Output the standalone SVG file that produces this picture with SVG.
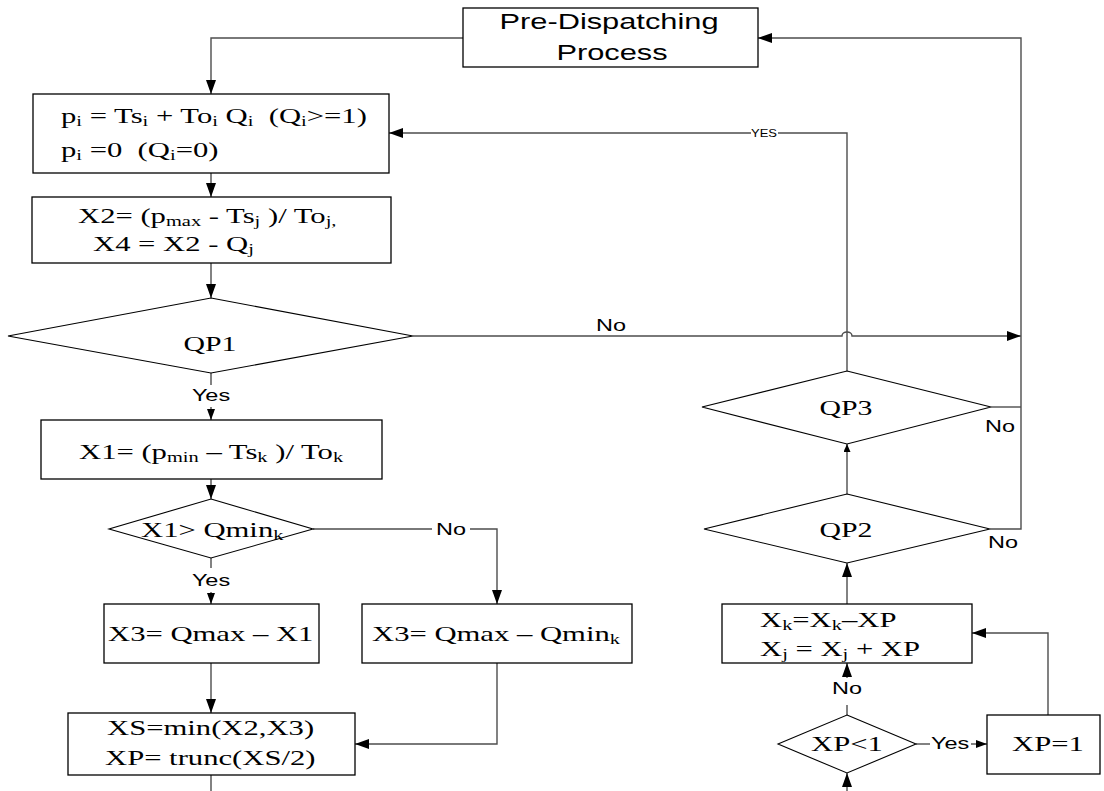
<svg xmlns="http://www.w3.org/2000/svg" width="1104" height="791" viewBox="0 0 1104 791">
  <style>
    .box { fill: #fff; stroke: #000; stroke-width: 1.3; }
    .dia { fill: #fff; stroke: #000; stroke-width: 1.1; }
    .ln { fill: none; stroke: #4d4d4d; stroke-width: 1.4; }
    .tm { font-family: "Liberation Serif", "Times New Roman", serif; font-size: 21px; fill: #000; white-space: pre; }
    .ts { font-family: "Liberation Sans", Arial, sans-serif; font-size: 22px; fill: #000; white-space: pre; }
    .lb { font-family: "Liberation Sans", Arial, sans-serif; font-size: 17px; fill: #000; white-space: pre; }
    .lbs { font-family: "Liberation Sans", Arial, sans-serif; font-size: 10px; fill: #000; }
    .sb { font-size: 14px; }
  </style>
  <defs>
    <marker id="ah" viewBox="0 0 14 10" refX="14" refY="5" markerWidth="14" markerHeight="10" markerUnits="userSpaceOnUse" orient="auto">
      <path d="M0,0 L14,5 L0,10 Z" fill="#000"/>
    </marker>
    <marker id="ahm" viewBox="0 0 11 8" refX="11" refY="4" markerWidth="11" markerHeight="8" markerUnits="userSpaceOnUse" orient="auto">
      <path d="M0,0 L11,4 L0,8 Z" fill="#000"/>
    </marker>
    <marker id="ahs" viewBox="0 0 8 7" refX="8" refY="3.5" markerWidth="8" markerHeight="7" markerUnits="userSpaceOnUse" orient="auto">
      <path d="M0,0 L8,3.5 L0,7 Z" fill="#000"/>
    </marker>
  </defs>
  <rect width="1104" height="791" fill="#fff"/>

  <!-- connectors and their labels -->
  <g id="connectors">
    <path class="ln" d="M463,38 H211 V94" marker-end="url(#ah)"/>
    <path class="ln" d="M211,173 V197" marker-end="url(#ah)"/>
    <path class="ln" d="M211,263 V298" marker-end="url(#ah)"/>
    <path class="ln" d="M211,373 V385"/>
    <path class="ln" d="M211,407 V420" marker-end="url(#ahm)"/>
    <path class="ln" d="M211,479 V499" marker-end="url(#ah)"/>
    <path class="ln" d="M211,558 V568"/>
    <path class="ln" d="M211,592 V604" marker-end="url(#ahm)"/>
    <path class="ln" d="M313,529 H432"/>
    <path class="ln" d="M470,529 H497 V604" marker-end="url(#ah)"/>
    <path class="ln" d="M211,663 V713" marker-end="url(#ah)"/>
    <path class="ln" d="M497,663 V744 H355" marker-end="url(#ah)"/>
    <path class="ln" d="M211,775 V791"/>
    <!-- QP1 "No" branch, hopping over the YES line -->
    <path class="ln" d="M413,336 H842 A5,4 0 0 1 852,336 H1021" marker-end="url(#ah)"/>
    <!-- right-hand return line to Pre-Dispatching -->
    <path class="ln" d="M990,529 H1021 V38 H758" marker-end="url(#ah)"/>
    <path class="ln" d="M991,407 H1021"/>
    <!-- QP3 YES back to the p_i box -->
    <path class="ln" d="M847,371 V133 H778"/>
    <path class="ln" d="M751,133 H389" marker-end="url(#ah)"/>
    <path class="ln" d="M847,494 V444" marker-end="url(#ahs)"/>
    <path class="ln" d="M847,604 V563" marker-end="url(#ah)"/>
    <path class="ln" d="M847,715 V705"/>
    <path class="ln" d="M847,678 V663" marker-end="url(#ah)"/>
    <path class="ln" d="M847,791 V773" marker-end="url(#ah)"/>
    <path class="ln" d="M916,744 H930"/>
    <path class="ln" d="M971,744 H987" marker-end="url(#ahm)"/>
    <path class="ln" d="M1048,715 V633 H972" marker-end="url(#ah)"/>

    <text class="lb" text-anchor="middle" transform="translate(211,401) scale(1.38,1)">Yes</text>
    <text class="lb" text-anchor="middle" transform="translate(211,586) scale(1.38,1)">Yes</text>
    <text class="lb" text-anchor="middle" transform="translate(451,535) scale(1.38,1)">No</text>
    <text class="lb" transform="translate(596,331) scale(1.38,1)">No</text>
    <text class="lbs" text-anchor="middle" transform="translate(764,137) scale(1.3,1)">YES</text>
    <text class="lb" transform="translate(985,432) scale(1.38,1)">No</text>
    <text class="lb" transform="translate(988,548) scale(1.38,1)">No</text>
    <text class="lb" text-anchor="middle" transform="translate(847,694) scale(1.38,1)">No</text>
    <text class="lb" transform="translate(931,749) scale(1.38,1)">Yes</text>
  </g>

  <g id="n-predispatch">
    <rect class="box" x="463" y="8" width="295" height="59"/>
    <text class="ts" text-anchor="middle" transform="translate(609,29) scale(1.4,1)">Pre-Dispatching</text>
    <text class="ts" text-anchor="middle" transform="translate(612,60) scale(1.4,1)">Process</text>
  </g>

  <g id="n-power">
    <rect class="box" x="33" y="94" width="356" height="79"/>
    <text class="tm" transform="translate(61,123) scale(1.46,1)">p<tspan class="sb" dy="3">i</tspan><tspan dy="-3"> = Ts</tspan><tspan class="sb" dy="3">i</tspan><tspan dy="-3"> + To</tspan><tspan class="sb" dy="3">i</tspan><tspan dy="-3"> Q</tspan><tspan class="sb" dy="3">i</tspan><tspan dy="-3">  (Q</tspan><tspan class="sb" dy="3">i</tspan><tspan dy="-3">&gt;=1)</tspan></text>
    <text class="tm" transform="translate(61,157) scale(1.46,1)">p<tspan class="sb" dy="3">i</tspan><tspan dy="-3"> =0  (Q</tspan><tspan class="sb" dy="3">i</tspan><tspan dy="-3">=0)</tspan></text>
  </g>

  <g id="n-x2x4">
    <rect class="box" x="32" y="197" width="359" height="66"/>
    <text class="tm" transform="translate(78,223) scale(1.46,1)">X2= (p<tspan class="sb" dy="3">max</tspan><tspan dy="-3"> - Ts</tspan><tspan class="sb" dy="3">j</tspan><tspan dy="-3"> )/ To</tspan><tspan class="sb" dy="3">j,</tspan></text>
    <text class="tm" transform="translate(93,251) scale(1.46,1)">X4 = X2 - Q<tspan class="sb" dy="3">j</tspan></text>
  </g>

  <g id="n-qp1">
    <polygon class="dia" points="211,298 413,336 211,373 8,336"/>
    <text class="tm" text-anchor="middle" transform="translate(210,351) scale(1.42,1)">QP1</text>
  </g>

  <g id="n-x1">
    <rect class="box" x="41" y="420" width="341" height="59"/>
    <text class="tm" transform="translate(79,459) scale(1.46,1)">X1= (p<tspan class="sb" dy="3">min</tspan><tspan dy="-3"> – Ts</tspan><tspan class="sb" dy="3">k</tspan><tspan dy="-3"> )/ To</tspan><tspan class="sb" dy="3">k</tspan></text>
  </g>

  <g id="n-x1cmp">
    <polygon class="dia" points="211,499 313,529 211,558 109,529"/>
    <text class="tm" transform="translate(141,537) scale(1.46,1)">X1&gt; Qmin<tspan class="sb" dy="3">k</tspan></text>
  </g>

  <g id="n-x3a">
    <rect class="box" x="104" y="604" width="215" height="59"/>
    <text class="tm" transform="translate(108,641) scale(1.46,1)">X3= Qmax – X1</text>
  </g>

  <g id="n-x3b">
    <rect class="box" x="362" y="604" width="270" height="59"/>
    <text class="tm" transform="translate(372,641) scale(1.46,1)">X3= Qmax – Qmin<tspan class="sb" dy="3">k</tspan></text>
  </g>

  <g id="n-xsxp">
    <rect class="box" x="68" y="713" width="287" height="62"/>
    <text class="tm" transform="translate(107,735) scale(1.46,1)">XS=min(X2,X3)</text>
    <text class="tm" transform="translate(105,765) scale(1.46,1)">XP= trunc(XS/2)</text>
  </g>

  <g id="n-qp3">
    <polygon class="dia" points="847,371 991,407 847,444 702,407"/>
    <text class="tm" text-anchor="middle" transform="translate(846,415) scale(1.42,1)">QP3</text>
  </g>

  <g id="n-qp2">
    <polygon class="dia" points="847,494 990,529 847,563 704,529"/>
    <text class="tm" text-anchor="middle" transform="translate(846,537) scale(1.42,1)">QP2</text>
  </g>

  <g id="n-xkxj">
    <rect class="box" x="722" y="604" width="250" height="59"/>
    <text class="tm" transform="translate(760,627) scale(1.46,1)">X<tspan class="sb" dy="3">k</tspan><tspan dy="-3">=X</tspan><tspan class="sb" dy="3">k</tspan><tspan dy="-3">–XP</tspan></text>
    <text class="tm" transform="translate(760,656) scale(1.46,1)">X<tspan class="sb" dy="3">j</tspan><tspan dy="-3"> = X</tspan><tspan class="sb" dy="3">j</tspan><tspan dy="-3"> + XP</tspan></text>
  </g>

  <g id="n-xplt1">
    <polygon class="dia" points="847,715 916,744 847,773 778,744"/>
    <text class="tm" transform="translate(811,751) scale(1.46,1)">XP&lt;1</text>
  </g>

  <g id="n-xp1">
    <rect class="box" x="987" y="715" width="113" height="59"/>
    <text class="tm" transform="translate(1012,751) scale(1.46,1)">XP=1</text>
  </g>
</svg>
